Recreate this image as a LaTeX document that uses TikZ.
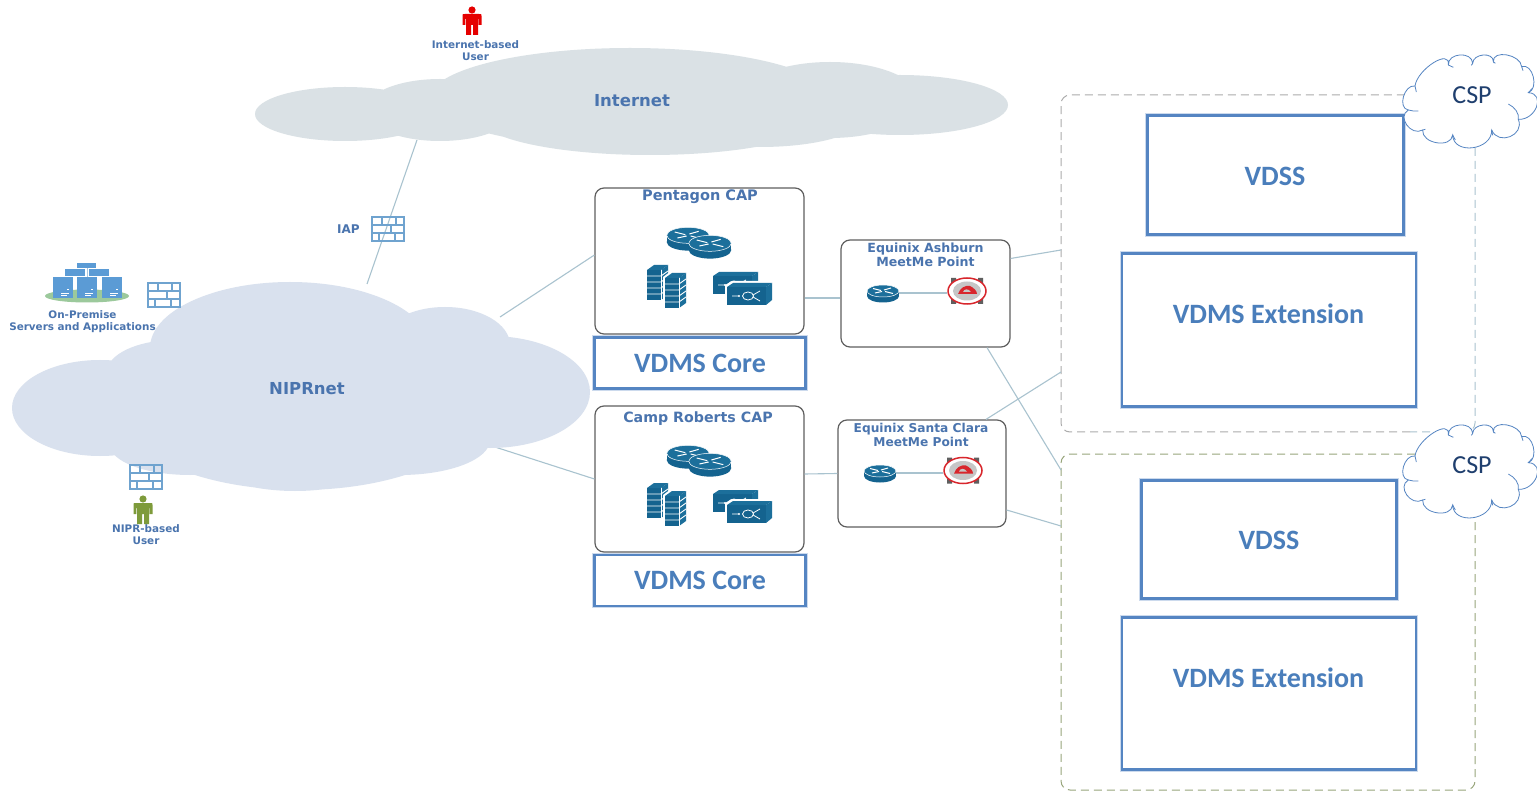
\documentclass[tikz,border=0pt]{standalone}
\usepackage{fontspec}
\setmainfont{DejaVu Sans}
\newfontfamily\calib{Carlito}
\definecolor{boxblue}{HTML}{5585C2}
\definecolor{txtblue}{HTML}{4A7EBB}
\definecolor{lblblue}{HTML}{4A74AE}
\definecolor{icontl}{HTML}{14638F}
\definecolor{iconlt}{HTML}{1C6F9B}
\definecolor{fwblue}{HTML}{6FA3CF}
\definecolor{srvblue}{HTML}{5B9BD5}
\definecolor{linkc}{HTML}{A9C3CF}
\definecolor{nipr}{HTML}{D9E1EE}
\definecolor{inet}{HTML}{DAE1E5}
\definecolor{grayline}{HTML}{5F5F5F}
\definecolor{navy}{HTML}{1F3F6E}
\definecolor{olive}{HTML}{7E9B3B}
\definecolor{meetred}{HTML}{D8262C}
\tikzset{
  link/.style={draw=linkc,line width=1.1pt},
  capbox/.style={draw=grayline,line width=1.2pt,rounded corners=9pt,fill=white,inner sep=0pt},
  vbox/.style={draw=boxblue,line width=2.2pt,fill=white,inner sep=0pt,
     preaction={draw=boxblue!30,line width=4.5pt}},
  vtext/.style={text=txtblue,inner sep=0pt,font=\calib\bfseries\fontsize{28}{32}\selectfont},
  csptext/.style={text=navy,inner sep=0pt,font=\calib\fontsize{26}{28}\selectfont},
  lbl/.style={text=lblblue,align=center,inner sep=0pt},
  csparea/.style={line width=1pt,dash pattern=on 8pt off 5pt,rounded corners=9pt},
  pics/cspshape/.style={code={
    \draw[boxblue,line width=.8pt,fill=white] (1125,108)
      .. controls (1132,57) and (1232,-6) .. (1225,45)
      .. controls (1223,8) and (1296,3) .. (1298,40)
      .. controls (1299,10) and (1361,5) .. (1360,35)
      .. controls (1357,-2) and (1442,13) .. (1445,50)
      .. controls (1478,38) and (1498,116) .. (1465,128)
      .. controls (1518,131) and (1488,211) .. (1435,208)
      .. controls (1455,256) and (1375,288) .. (1355,240)
      .. controls (1357,301) and (1240,316) .. (1238,255)
      .. controls (1234,296) and (1144,281) .. (1148,240)
      .. controls (1113,260) and (1070,200) .. (1105,180)
      .. controls (1072,175) and (1092,103) .. (1125,108);
    \draw[boxblue,line width=.8pt]
      (1105,180) .. controls (1115,183) and (1125,184) .. (1135,183)
      (1148,240) -- (1156,238)
      (1238,255) -- (1246,270)
      (1355,240) -- (1358,256)
      (1435,208) .. controls (1438,190) and (1425,172) .. (1405,162)
      (1465,128) -- (1476,116)
      (1445,50) -- (1449,62)
      (1360,35) -- (1366,40)
      (1298,40) -- (1294,46)
      (1225,45) -- (1240,52)
      (1125,108) -- (1129,126);
  }},
  pics/router/.style={code={
    \fill[icontl] (0,3) ellipse[x radius=16,y radius=6.5];
    \fill[icontl] (-16,-2) rectangle (16,3);
    \draw[white,line width=.5pt,fill=iconlt] (0,-2) ellipse[x radius=16,y radius=6];
    \draw[white,line width=1pt] (-10,-4.5) -- (-2,-2.5) (10,.5) -- (2,-1.5) (-8,0) -- (-1,-1.5) (8,-5) -- (1,-3);
  }},
  pics/firewall/.style={code={
    \draw[fwblue,line width=1.8pt] (-16,-12) rectangle (16,12);
    \draw[fwblue,line width=1.6pt] (-16,-4) -- (16,-4) (-16,4) -- (16,4)
      (-6,-12) -- (-6,-4) (8,-12) -- (8,-4) (3,-4) -- (3,4) (-9,4) -- (-9,12) (7,4) -- (7,12);
  }},
  pics/bricks/.style={code={
    \foreach \dx/\dy in {0/0,18/8}{
    \begin{scope}[shift={(\dx,\dy)}]
    \fill[white] (-13,-16) -- (-5,-22) -- (12,-22) -- (12,11) -- (4,17) -- (-13,17) -- cycle;
    \fill[icontl] (-11,-15) rectangle (3,15);
    \fill[iconlt] (3,-15) -- (10,-20) -- (10,10) -- (3,15) -- cycle;
    \fill[iconlt] (-11,-15) -- (-4,-20) -- (10,-20) -- (3,-15) -- cycle;
    \foreach \k in {-9,-3,3,9}{\draw[white,line width=.9pt] (-11,\k) -- (3,\k) -- (10,\k-5);}
    \draw[white,line width=.5pt] (3,-15) -- (3,15);
    \end{scope}}
  }},
  pics/switcher/.style={code={
    \foreach \dx/\dy in {-29/-16,-15/-5}{
    \begin{scope}[shift={(\dx,\dy)}]
    \fill[white] (-2,1) -- (5,-3) -- (47,-3) -- (47,18) -- (40,23) -- (-2,23) -- cycle;
    \fill[icontl] (0,3) rectangle (39,21);
    \fill[iconlt] (39,3) -- (45,-1) -- (45,16) -- (39,21) -- cycle;
    \fill[iconlt] (0,3) -- (6,-1) -- (45,-1) -- (39,3) -- cycle;
    \draw[white,line width=.8pt] (5,12) -- (12,12) (21,12) circle[x radius=5.5,y radius=4] (26,11) -- (33,7) (26,13) -- (33,17);
    \fill[white] (12,12) circle[radius=1.2];
    \end{scope}}
  }},
  pics/meetme/.style={code={
    \fill[grayline] (-16,-13) rectangle (-11,-8) (11,-13) rectangle (16,-8) (-16,8) rectangle (-11,13) (11,8) rectangle (16,13);
    \draw[meetred,line width=1.5pt,fill=white] (0,0) ellipse[x radius=19,y radius=13];
    \fill[gray!45] (0,0) ellipse[x radius=14,y radius=9.5];
    \fill[meetred] (-9,3) .. controls (-7,-3) and (-2,-6) .. (3,-5) .. controls (7,-3) and (10,0) .. (10,3) -- cycle;
    \fill[gray!45] (-4,1) .. controls (-3,-2) and (1,-3) .. (4,1) -- cycle;
  }},
  pics/person/.style={code={
    \fill[#1] (0,-11) circle[radius=3.6];
    \fill[#1] (-9.5,-5) .. controls (-9.5,-7) .. (-7,-7) -- (7,-7) .. controls (9.5,-7) .. (9.5,-5)
       -- (9.5,4) -- (6.7,4) -- (6.7,-2) -- (6,-2) -- (6,14) -- (1,14) -- (1,4) -- (-1,4) -- (-1,14) -- (-6,14)
       -- (-6,-2) -- (-6.7,-2) -- (-6.7,4) -- (-9.5,4) -- cycle;
  }},
  pics/server/.style={code={
    \fill[srvblue] (-10,-17) rectangle (9,-12);
    \fill[srvblue] (-22,-11) rectangle (-2,-4);
    \fill[srvblue] (2,-11) rectangle (22,-4);
    \draw[fwblue!60,line width=.7pt] (0,-12) -- (0,-3);
    \foreach \c in {-34,-10,15}{
      \fill[srvblue] (\c,-3) rectangle (\c+20,18);
      \draw[white,line width=.7pt] (\c+8,13) -- (\c+16,13) (\c+8,15) -- (\c+14,15) (\c+14,9) -- (\c+16,9);
    }
  }},
}
\begin{document}
\begin{tikzpicture}[x=1pt,y=-1pt]
\useasboundingbox[fill=white] (0,0) rectangle (1537,791);
% anchor points on the clouds
\coordinate (inetfoot) at (417,140);
\coordinate (niprtop) at (367,284);
\coordinate (niprne) at (500,317);
\coordinate (niprse) at (495,447);
% boxes
\node[capbox,minimum width=209pt,minimum height=146pt] (pent) at (699.5,261) {};
\node[capbox,minimum width=209pt,minimum height=146pt] (camp) at (699.5,479) {};
\node[capbox,minimum width=169pt,minimum height=107pt] (ash) at (925.5,293.5) {};
\node[capbox,minimum width=168pt,minimum height=107pt] (sc) at (922,473.5) {};
% links
\draw[link] (inetfoot) -- (niprtop);
\draw[link] (niprne) -- ([yshift=6pt]pent.west);
\draw[link] (niprse) -- (camp.west);
\draw[link] ([yshift=-37pt]pent.east) -- ([yshift=-4.5pt]ash.west);
\draw[link] ([yshift=5pt]camp.east) -- (sc.west);
% CSP areas
\draw[csparea,draw=gray!65] (1410,432) -- (1061,432) -- (1061,95) -- (1410,95);
\draw[csparea,draw=linkc] (1475,148) -- (1475,432) -- (1410,432);
\draw[csparea,draw=gray!45!olive!80] (1415,454) -- (1061,454) -- (1061,790) -- (1475,790) -- (1475,515);
\coordinate (a1) at (1061,250);
\coordinate (a2) at (1061,372);
\coordinate (b1) at (1061,470);
\coordinate (b2) at (1061,526);
\draw[link] ([yshift=35pt]ash.east) -- (a1);
\draw[link] ([xshift=61.5pt]ash.south) -- (b1);
\draw[link] ([xshift=64pt]sc.north) -- (a2);
\draw[link] ([yshift=-36.5pt]sc.east) -- (b2);
% Internet cloud
\fill[inet] (345,114) ellipse[x radius=90,y radius=27]
  (440,110) ellipse[x radius=75,y radius=31]
  (630,98) ellipse[x radius=200,y radius=50]
  (650,118) ellipse[x radius=170,y radius=37]
  (760,120) ellipse[x radius=100,y radius=27]
  (830,100) ellipse[x radius=90,y radius=38]
  (900,105) ellipse[x radius=108,y radius=30];
\node[lbl,font=\fontsize{16.5}{18}\selectfont\bfseries] (internet) at (632,101) {Internet};
% NIPRnet cloud
\fill[nipr] (100,408) ellipse[x radius=88,y radius=48]
  (175,372) ellipse[x radius=68,y radius=32]
  (290,348) ellipse[x radius=140,y radius=66]
  (300,400) ellipse[x radius=190,y radius=90]
  (295,440) ellipse[x radius=110,y radius=51]
  (190,445) ellipse[x radius=80,y radius=30]
  (445,345) ellipse[x radius=65,y radius=38]
  (490,392) ellipse[x radius=100,y radius=56]
  (400,440) ellipse[x radius=90,y radius=35];
\node[lbl,font=\fontsize{16.5}{18}\selectfont\bfseries] (niprnet) at (307,389) {NIPRnet};
% VDMS Core
\node[vbox,vtext,minimum width=211pt,minimum height=51pt] (core1) at (700,363) {VDMS Core};
\node[vbox,vtext,minimum width=211pt,minimum height=51pt] (core2) at (700,580.5) {VDMS Core};
% CSP contents
\node[vbox,minimum width=256pt,minimum height=119pt] (vdss1) at (1275.5,175) {};
\node[vtext] (vdss1t) at (1275,176.5) {VDSS};
\node[vbox,minimum width=294pt,minimum height=153pt] (ext1) at (1269,330) {};
\node[vtext] (ext1t) at (1268.5,314) {VDMS Extension};
\node[vbox,minimum width=255pt,minimum height=118pt] (vdss2) at (1269,539.5) {};
\node[vtext] (vdss2t) at (1269,540.5) {VDSS};
\node[vbox,minimum width=294pt,minimum height=152pt] (ext2) at (1269,693.5) {};
\node[vtext] (ext2t) at (1268.5,678) {VDMS Extension};
% CSP clouds
\pic[shift={(1040,50)},scale=.33333] {cspshape};
\node[csptext] (csp1t) at (1472,95) {CSP};
\pic[shift={(1040,420)},scale=.33333] {cspshape};
\node[csptext] (csp2t) at (1472,465) {CSP};
% labels
\node[lbl,font=\fontsize{14.5}{15}\selectfont\bfseries] (pentt) at (700,197) {Pentagon CAP};
\node[lbl,font=\fontsize{14.2}{15}\selectfont\bfseries] (campt) at (698,419) {Camp Roberts CAP};
\node[lbl,font=\fontsize{12.6}{14}\selectfont\bfseries] (asht) at (925.5,255) {Equinix Ashburn\\MeetMe Point};
\node[lbl,font=\fontsize{12.2}{14}\selectfont\bfseries] (sct) at (921,435) {Equinix Santa Clara\\MeetMe Point};
\node[lbl,font=\fontsize{12}{13}\selectfont\bfseries] (iap) at (348.5,229) {IAP};
\node[lbl,font=\fontsize{10.4}{12}\selectfont\bfseries] (user1) at (475.5,51) {Internet-based\\User};
\node[lbl,font=\fontsize{10.4}{12}\selectfont\bfseries] (user2) at (146,535) {NIPR-based\\User};
\node[lbl,font=\fontsize{10.4}{12}\selectfont\bfseries] (onprem) at (82.5,322) {On-Premise\\Servers and Applications};
% icons
\pic at (388,229) {firewall};
\pic at (164,295) {firewall};
\pic at (146,477) {firewall};
\pic at (472,21) {person=red!90!black};
\pic at (143,510) {person=olive};
\fill[green!30!gray!60!white] (87,296) ellipse[x radius=42,y radius=6.5];
\pic at (87,280) {server};
% Pentagon icons
\pic[scale=1.33] at (688,238) {router};
\pic[scale=1.33] at (710,246) {router};
\pic at (658,285) {bricks};
\pic at (742,289) {switcher};
% Camp icons
\pic[scale=1.33] at (688,456) {router};
\pic[scale=1.33] at (710,464) {router};
\pic at (658,503) {bricks};
\pic at (742,507) {switcher};
% Meetme icons
\pic (r1) at (883,293) {router};
\pic at (967,291) {meetme};
\draw[link] (899,293) -- (947,293);
\pic (r2) at (880,473) {router};
\pic at (963,470.5) {meetme};
\draw[link] (896,473) -- (943,473);
\end{tikzpicture}
\end{document}
